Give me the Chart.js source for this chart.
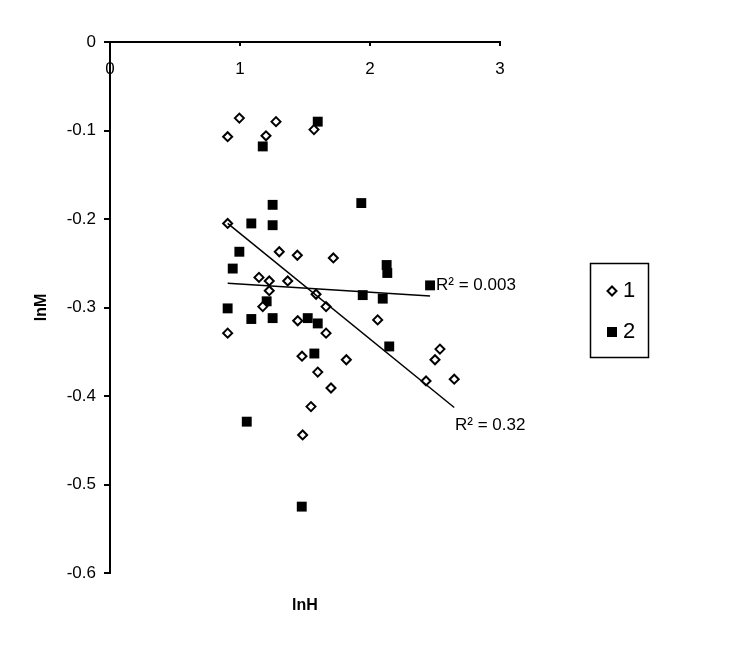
<!DOCTYPE html>
<html>
<head>
<meta charset="utf-8">
<script src="https://cdn.jsdelivr.net/npm/chart.js@4/dist/chart.umd.min.js"></script>
<style>
  body { margin: 0; background: #fff; }
  #wrap { width: 740px; height: 650px; }
</style>
</head>
<body>
<div id="wrap"><canvas id="mycanvas" width="740" height="650"></canvas></div>
<script>
// series 1 (open diamonds)
var lnH1 = [0.995, 1.277, 1.569, 0.905, 1.200, 0.905, 1.302, 1.441, 1.718, 1.146,
            1.225, 1.367, 1.225, 1.175, 1.585, 1.662, 1.444, 0.905, 1.662, 1.477,
            1.818, 1.598, 1.700, 1.546, 1.482, 2.059, 2.538, 2.500, 2.648, 2.431];
var lnM1 = [-0.086, -0.090, -0.099, -0.107, -0.106, -0.205, -0.237, -0.241, -0.244, -0.266,
            -0.270, -0.270, -0.281, -0.299, -0.285, -0.299, -0.315, -0.329, -0.329, -0.355,
            -0.359, -0.373, -0.391, -0.412, -0.444, -0.314, -0.347, -0.359, -0.381, -0.383];

// series 2 (filled squares)
var lnH2 = [1.598, 1.175, 1.251, 1.933, 1.087, 1.251, 0.995, 0.944, 2.128, 2.133,
            2.462, 1.944, 2.098, 1.205, 0.905, 1.087, 1.251, 1.521, 1.598, 2.148,
            1.572, 1.052, 1.475];
var lnM2 = [-0.090, -0.118, -0.184, -0.182, -0.205, -0.207, -0.237, -0.256, -0.252, -0.261,
            -0.275, -0.286, -0.290, -0.293, -0.301, -0.313, -0.312, -0.312, -0.318, -0.344,
            -0.352, -0.429, -0.525];

// linear trend lines (end points)
var trend1X = [0.905, 2.648];
var trend1Y = [-0.205, -0.413];
var trend2X = [0.905, 2.462];
var trend2Y = [-0.2726, -0.287];

var seriesNames = ['1', '2'];
var r2Text = ['R\u00B2 = 0.003', 'R\u00B2 = 0.32'];

function pts(xs, ys) {
	var out = [];
	for (var i in xs) {
		out.push({x: xs[i], y: ys[i]});
	}
	return out;
}

var FONT = '"Liberation Sans", Arial, sans-serif';

var extras = {
	id: 'extras',
	afterDatasetsDraw: function(chart) {
		var ctx = chart.ctx;
		var xs = chart.scales.x, ys = chart.scales.y;
		ctx.save();
		ctx.fillStyle = '#000';
		ctx.textBaseline = 'middle';
		ctx.textAlign = 'left';
		ctx.font = '17px ' + FONT;
		// R² labels next to the trend lines
		ctx.fillText(r2Text[0], xs.getPixelForValue(2.508), ys.getPixelForValue(-0.2746));
		ctx.fillText(r2Text[1], xs.getPixelForValue(2.654), ys.getPixelForValue(-0.4328));

		// boxed legend
		ctx.strokeStyle = '#000';
		ctx.lineWidth = 1.5;
		ctx.strokeRect(590.5, 263.5, 58, 94);
		ctx.font = '22px ' + FONT;
		// diamond
		ctx.beginPath();
		ctx.moveTo(612, 286.5); ctx.lineTo(616.5, 291); ctx.lineTo(612, 295.5); ctx.lineTo(607.5, 291);
		ctx.closePath();
		ctx.fillStyle = '#fff';
		ctx.fill();
		ctx.lineWidth = 2;
		ctx.stroke();
		ctx.fillStyle = '#000';
		ctx.fillText(seriesNames[0], 623, 291);
		// square
		ctx.fillRect(607, 327, 10, 10);
		ctx.fillText(seriesNames[1], 623, 332);
		ctx.restore();
	}
};

var chartdata = {
	datasets: [
		{
			label: seriesNames[0],
			data: pts(lnH1, lnM1),
			pointStyle: 'rectRot',
			pointRadius: 4.5,
			borderWidth: 2,
			borderColor: '#000',
			backgroundColor: '#fff',
			order: 1
		},
		{
			label: seriesNames[1],
			data: pts(lnH2, lnM2),
			pointStyle: 'rect',
			pointRadius: 7,
			borderWidth: 0,
			borderColor: '#000',
			backgroundColor: '#000',
			order: 2
		},
		{
			label: 'trend 1',
			data: pts(trend1X, trend1Y),
			showLine: true,
			pointRadius: 0,
			borderWidth: 1.5,
			borderColor: '#000',
			fill: false,
			order: 0
		},
		{
			label: 'trend 2',
			data: pts(trend2X, trend2Y),
			showLine: true,
			pointRadius: 0,
			borderWidth: 1.5,
			borderColor: '#000',
			fill: false,
			order: 0
		}
	]
};

var ctx = document.getElementById('mycanvas');

var scatter = new Chart(ctx, {
	type: 'scatter',
	data: chartdata,
	plugins: [extras],
	options: {
		responsive: false,
		animation: false,
		events: [],
		layout: { padding: { left: 0, top: 42, right: 240, bottom: 27 } },
		plugins: {
			legend: { display: false },
			tooltip: { enabled: false }
		},
		scales: {
			x: {
				type: 'linear',
				position: { y: 0 },
				min: 0,
				max: 3,
				ticks: { stepSize: 1, color: '#000', padding: 14, font: { family: FONT, size: 17 } },
				grid: { drawOnChartArea: false, drawTicks: true, tickLength: 3, color: '#000', lineWidth: 2 },
				border: { display: true, color: '#000', width: 2 }
			},
			x2: {
				type: 'linear',
				position: 'bottom',
				ticks: { display: false },
				grid: { display: false },
				border: { display: false },
				title: { display: true, text: 'lnH', color: '#000', padding: { top: 0, bottom: 8 }, font: { family: FONT, size: 16, weight: 'bold' } },
				afterFit: function(scale) { scale.height = 50; }
			},
			y: {
				type: 'linear',
				position: 'left',
				min: -0.6,
				max: 0,
				ticks: { stepSize: 0.1, color: '#000', padding: 8, font: { family: FONT, size: 17 } },
				grid: { drawOnChartArea: false, drawTicks: true, tickLength: 6, color: '#000', lineWidth: 2 },
				border: { display: true, color: '#000', width: 2 },
				title: { display: true, text: 'lnM', color: '#000', padding: { top: 32, bottom: 0 }, font: { family: FONT, size: 16, weight: 'bold' } },
				afterFit: function(scale) { scale.width = 110; }
			}
		}
	}
});
</script>
</body>
</html>
